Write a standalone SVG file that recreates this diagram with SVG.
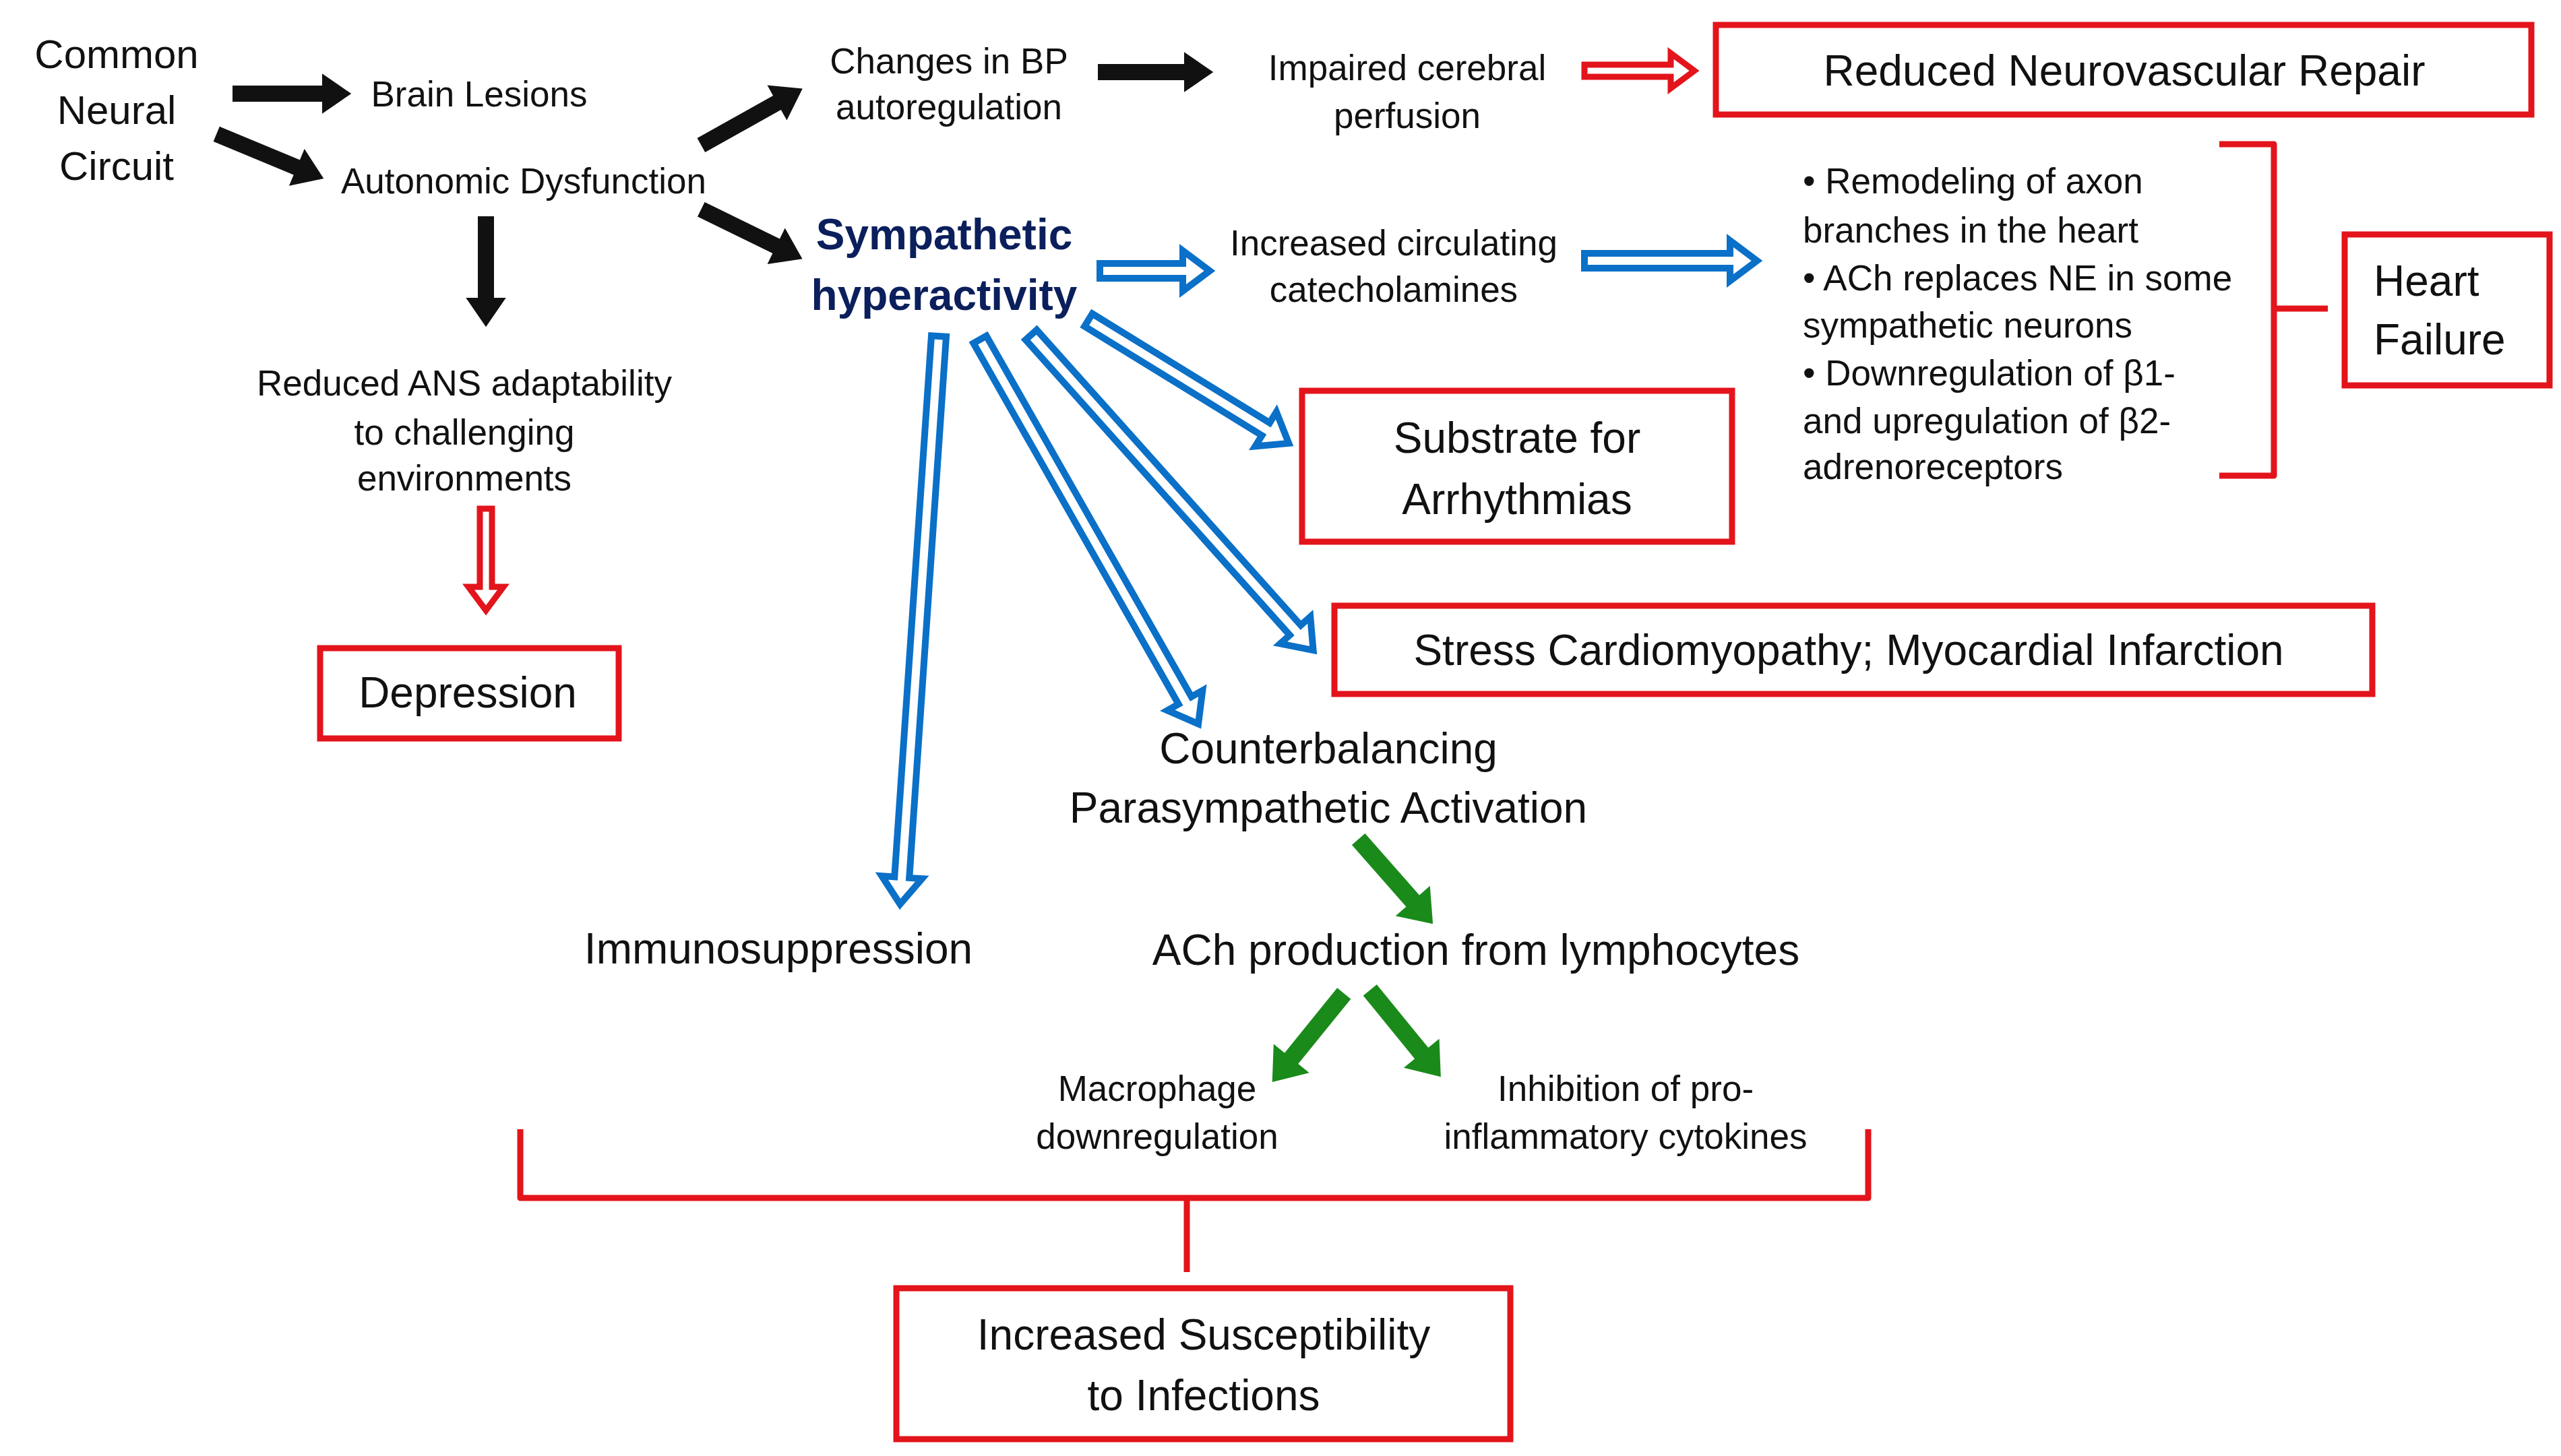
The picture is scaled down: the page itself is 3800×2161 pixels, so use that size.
<svg xmlns="http://www.w3.org/2000/svg" width="3800" height="2161" viewBox="0 0 3800 2161">
<style>
text{font-family:"Liberation Sans","Noto Sans",sans-serif;fill:#111;text-anchor:middle;dominant-baseline:central}
.s{font-size:53px}.m{font-size:60px}.l{font-size:64px}
.box{fill:none;stroke:#e3141b;stroke-width:9}
.bk{fill:#111;stroke:#111;stroke-width:6;stroke-linejoin:miter}
.rd{fill:#fff;stroke:#e3141b;stroke-width:9}
.bl{fill:#fff;stroke:#0a70c8;stroke-width:10}
.gr{fill:#1a8a1a;stroke:#1a8a1a;stroke-width:4}
.br{fill:none;stroke:#e3141b;stroke-width:9;stroke-linejoin:round}
</style>
<rect width="3800" height="2161" fill="#fff"/>
<g id="connectors">
<polygon class="bk" transform="translate(348,139) rotate(0)" points="0,-9 133,-9 133,-24 168,0 133,24 133,9 0,9"/>
<polygon class="bk" transform="translate(324,200) rotate(22.6)" points="0,-9 129,-9 129,-24 164,0 129,24 129,9 0,9"/>
<polygon class="bk" transform="translate(1043,214) rotate(-29.2)" points="0,-9 129,-9 129,-24 164,0 129,24 129,9 0,9"/>
<polygon class="bk" transform="translate(1632,107) rotate(0)" points="0,-9 128,-9 128,-24 163,0 128,24 128,9 0,9"/>
<polygon class="bk" transform="translate(1043,312) rotate(26.1)" points="0,-9 124,-9 124,-24 159,0 124,24 124,9 0,9"/>
<polygon class="bk" transform="translate(721,324) rotate(90)" points="0,-9 121,-9 121,-24 156,0 121,24 121,9 0,9"/>
<polygon class="rd" transform="translate(2351,105) rotate(0)" points="0,-9 128,-9 128,-26 163,0 128,26 128,9 0,9"/>
<polygon class="rd" transform="translate(721,755) rotate(90)" points="0,-9 116,-9 116,-26 151,0 116,26 116,9 0,9"/>
<polygon class="bl" transform="translate(1632,402) rotate(0)" points="0,-11 123,-11 123,-30 163,0 123,30 123,11 0,11"/>
<polygon class="bl" transform="translate(2351,387) rotate(0)" points="0,-11 216,-11 216,-30 256,0 216,30 216,11 0,11"/>
<polygon class="bl" transform="translate(1615,475) rotate(31.6)" points="0,-11 309,-11 309,-30 349,0 309,30 309,11 0,11"/>
<polygon class="bl" transform="translate(1530,497) rotate(48.2)" points="0,-11 588,-11 588,-30 628,0 588,30 588,11 0,11"/>
<polygon class="bl" transform="translate(1454,504) rotate(60.4)" points="0,-11 616,-11 616,-30 656,0 616,30 616,11 0,11"/>
<polygon class="bl" transform="translate(1393,499) rotate(93.9)" points="0,-11 805,-11 805,-30 845,0 805,30 805,11 0,11"/>
<polygon class="gr" transform="translate(2017,1247) rotate(48.7)" points="0,-11 122,-11 122,-30 162,0 122,30 122,11 0,11"/>
<polygon class="gr" transform="translate(1993,1476) rotate(129)" points="0,-11 124,-11 124,-30 164,0 124,30 124,11 0,11"/>
<polygon class="gr" transform="translate(2034,1471) rotate(50.8)" points="0,-11 121,-11 121,-30 161,0 121,30 121,11 0,11"/>
<path class="br" d="M3293,214 L3374,214 L3374,706 L3293,706 M3374,458 L3454,458"/>
<path class="br" d="M772,1676 L772,1778 L2772,1778 L2772,1676 M1761,1778 L1761,1888"/>
</g>
<g id="common"><text class="m" x="173" y="80">Common</text><text class="m" x="173" y="163">Neural</text><text class="m" x="173" y="246">Circuit</text></g>
<g id="brain"><text class="s" x="711" y="139">Brain Lesions</text></g>
<g id="autonomic"><text class="s" x="777" y="268">Autonomic Dysfunction</text></g>
<g id="bp"><text class="s" x="1408" y="90">Changes in BP</text><text class="s" x="1408" y="158">autoregulation</text></g>
<g id="impaired"><text class="s" x="2088" y="100">Impaired cerebral</text><text class="s" x="2088" y="171">perfusion</text></g>
<g id="repair"><rect class="box" x="2546" y="37" width="1210" height="133"/><text class="l" x="3152" y="105">Reduced Neurovascular Repair</text></g>
<g id="symp"><text class="l" x="1401" y="348" font-weight="bold" style="fill:#0b1f5c">Sympathetic</text><text class="l" x="1401" y="438" font-weight="bold" style="fill:#0b1f5c">hyperactivity</text></g>
<g id="cat"><text class="s" x="2068" y="360">Increased circulating</text><text class="s" x="2068" y="429">catecholamines</text></g>
<g id="bullets">
<text class="s" x="2675" y="268" style="text-anchor:start">• Remodeling of axon</text>
<text class="s" x="2675" y="341" style="text-anchor:start">branches in the heart</text>
<text class="s" x="2675" y="412" style="text-anchor:start">• ACh replaces NE in some</text>
<text class="s" x="2675" y="482" style="text-anchor:start">sympathetic neurons</text>
<text class="s" x="2675" y="553" style="text-anchor:start">• Downregulation of β1-</text>
<text class="s" x="2675" y="624" style="text-anchor:start">and upregulation of β2-</text>
<text class="s" x="2675" y="692" style="text-anchor:start">adrenoreceptors</text>
</g>
<g id="hf"><rect class="box" x="3479" y="348" width="304" height="224"/><text class="l" x="3522" y="417" style="text-anchor:start">Heart</text><text class="l" x="3522" y="504" style="text-anchor:start">Failure</text></g>
<g id="ans"><text class="s" x="689" y="568">Reduced ANS adaptability</text><text class="s" x="689" y="641">to challenging</text><text class="s" x="689" y="709">environments</text></g>
<g id="substrate"><rect class="box" x="1932" y="580" width="638" height="224"/><text class="l" x="2251" y="650">Substrate for</text><text class="l" x="2251" y="741">Arrhythmias</text></g>
<g id="stress"><rect class="box" x="1980" y="899" width="1540" height="131"/><text class="l" x="2743" y="965">Stress Cardiomyopathy; Myocardial Infarction</text></g>
<g id="depression"><rect class="box" x="475" y="962" width="443" height="134"/><text class="l" x="694" y="1028">Depression</text></g>
<g id="counter"><text class="l" x="1971" y="1111">Counterbalancing</text><text class="l" x="1971" y="1199">Parasympathetic Activation</text></g>
<g id="immuno"><text class="l" x="1155" y="1408">Immunosuppression</text></g>
<g id="ach"><text class="l" x="2190" y="1410">ACh production from lymphocytes</text></g>
<g id="macro"><text class="s" x="1717" y="1615">Macrophage</text><text class="s" x="1717" y="1686">downregulation</text></g>
<g id="inhib"><text class="s" x="2412" y="1615">Inhibition of pro-</text><text class="s" x="2412" y="1686">inflammatory cytokines</text></g>
<g id="infect"><rect class="box" x="1330" y="1912" width="911" height="224"/><text class="l" x="1786" y="1981">Increased Susceptibility</text><text class="l" x="1786" y="2071">to Infections</text></g>
</svg>
